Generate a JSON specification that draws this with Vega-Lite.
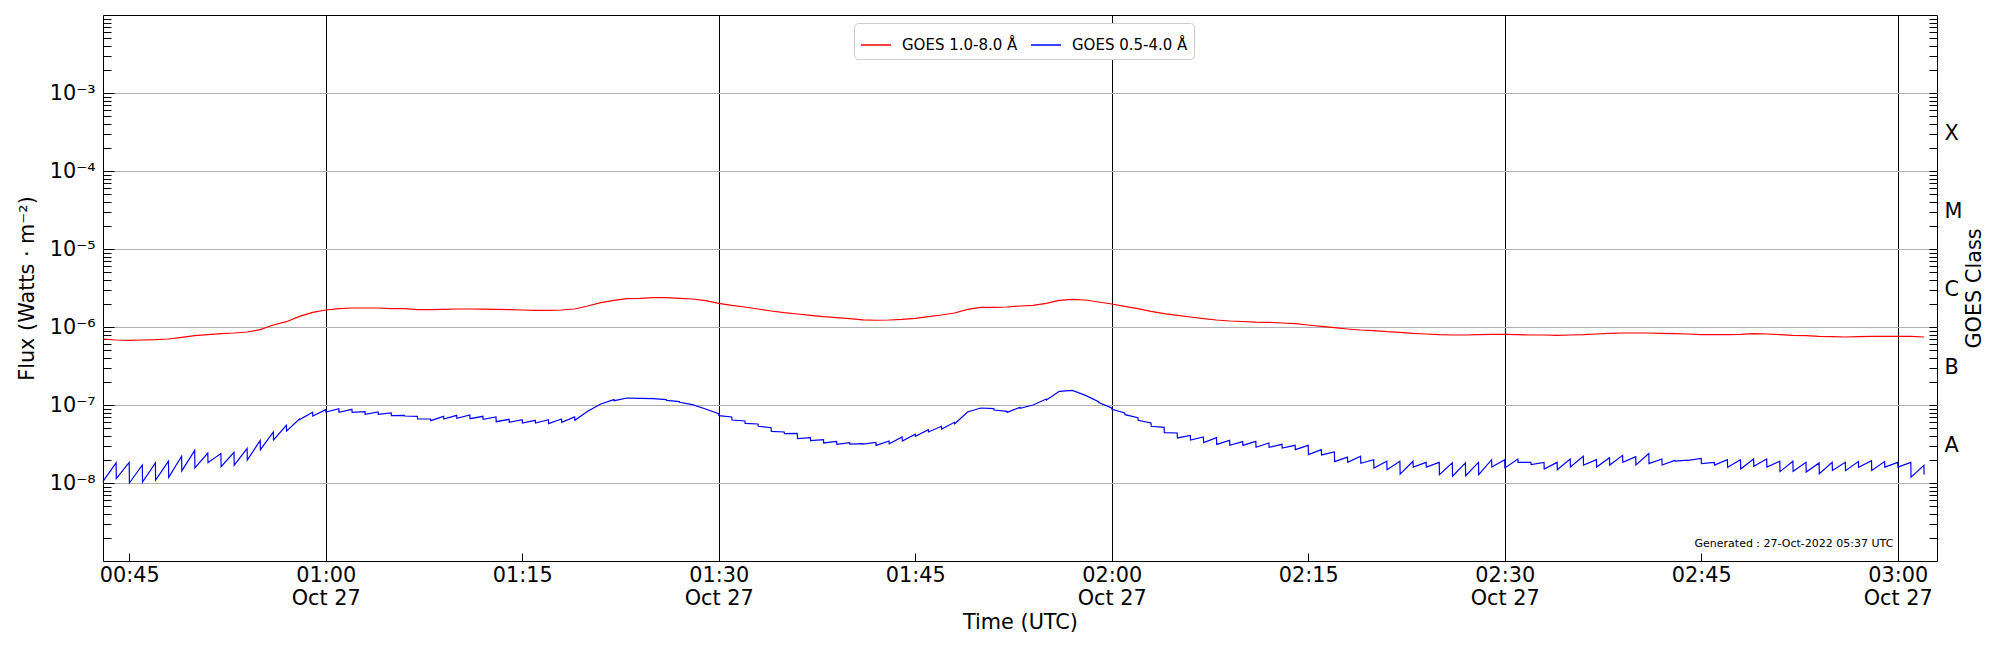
{
  "$schema": "https://vega.github.io/schema/vega-lite/v6.json",
  "width": 1834,
  "height": 546,
  "autosize": {"type": "none"},
  "padding": {"left": 103, "top": 15, "right": 63, "bottom": 89},
  "background": "white",
  "config": {
    "font": "DejaVu Sans",
    "view": {"stroke": "black", "strokeWidth": 1},
    "axis": {
      "domain": false,
      "labelFont": "DejaVu Sans",
      "labelFontSize": 20.8,
      "labelColor": "black",
      "titleFont": "DejaVu Sans",
      "titleFontSize": 20.8,
      "titleFontWeight": "normal",
      "titleColor": "black",
      "tickColor": "black",
      "tickWidth": 1
    }
  },
  "datasets": {
    "xrsb": [
      {"t": "2022-10-27T00:43:00Z", "v": 7.02e-7},
      {"t": "2022-10-27T00:44:00Z", "v": 6.81e-7},
      {"t": "2022-10-27T00:45:00Z", "v": 6.75e-7},
      {"t": "2022-10-27T00:46:00Z", "v": 6.81e-7},
      {"t": "2022-10-27T00:47:00Z", "v": 6.88e-7},
      {"t": "2022-10-27T00:48:00Z", "v": 7.02e-7},
      {"t": "2022-10-27T00:49:00Z", "v": 7.37e-7},
      {"t": "2022-10-27T00:50:00Z", "v": 7.74e-7},
      {"t": "2022-10-27T00:51:00Z", "v": 7.98e-7},
      {"t": "2022-10-27T00:52:00Z", "v": 8.22e-7},
      {"t": "2022-10-27T00:53:00Z", "v": 8.38e-7},
      {"t": "2022-10-27T00:54:00Z", "v": 8.63e-7},
      {"t": "2022-10-27T00:55:00Z", "v": 9.24e-7},
      {"t": "2022-10-27T00:56:00Z", "v": 1.061e-6},
      {"t": "2022-10-27T00:57:00Z", "v": 1.17e-6},
      {"t": "2022-10-27T00:58:00Z", "v": 1.37e-6},
      {"t": "2022-10-27T00:59:00Z", "v": 1.542e-6},
      {"t": "2022-10-27T01:00:00Z", "v": 1.652e-6},
      {"t": "2022-10-27T01:01:00Z", "v": 1.718e-6},
      {"t": "2022-10-27T01:02:00Z", "v": 1.752e-6},
      {"t": "2022-10-27T01:03:00Z", "v": 1.752e-6},
      {"t": "2022-10-27T01:04:00Z", "v": 1.752e-6},
      {"t": "2022-10-27T01:05:00Z", "v": 1.718e-6},
      {"t": "2022-10-27T01:06:00Z", "v": 1.718e-6},
      {"t": "2022-10-27T01:07:00Z", "v": 1.668e-6},
      {"t": "2022-10-27T01:08:00Z", "v": 1.668e-6},
      {"t": "2022-10-27T01:09:00Z", "v": 1.685e-6},
      {"t": "2022-10-27T01:10:00Z", "v": 1.701e-6},
      {"t": "2022-10-27T01:11:00Z", "v": 1.701e-6},
      {"t": "2022-10-27T01:12:00Z", "v": 1.694e-6},
      {"t": "2022-10-27T01:13:00Z", "v": 1.685e-6},
      {"t": "2022-10-27T01:14:00Z", "v": 1.668e-6},
      {"t": "2022-10-27T01:15:00Z", "v": 1.652e-6},
      {"t": "2022-10-27T01:16:00Z", "v": 1.636e-6},
      {"t": "2022-10-27T01:17:00Z", "v": 1.636e-6},
      {"t": "2022-10-27T01:18:00Z", "v": 1.652e-6},
      {"t": "2022-10-27T01:19:00Z", "v": 1.701e-6},
      {"t": "2022-10-27T01:20:00Z", "v": 1.858e-6},
      {"t": "2022-10-27T01:21:00Z", "v": 2.051e-6},
      {"t": "2022-10-27T01:22:00Z", "v": 2.198e-6},
      {"t": "2022-10-27T01:23:00Z", "v": 2.308e-6},
      {"t": "2022-10-27T01:24:00Z", "v": 2.331e-6},
      {"t": "2022-10-27T01:25:00Z", "v": 2.377e-6},
      {"t": "2022-10-27T01:26:00Z", "v": 2.377e-6},
      {"t": "2022-10-27T01:27:00Z", "v": 2.331e-6},
      {"t": "2022-10-27T01:28:00Z", "v": 2.286e-6},
      {"t": "2022-10-27T01:29:00Z", "v": 2.176e-6},
      {"t": "2022-10-27T01:30:00Z", "v": 2.011e-6},
      {"t": "2022-10-27T01:31:00Z", "v": 1.896e-6},
      {"t": "2022-10-27T01:32:00Z", "v": 1.805e-6},
      {"t": "2022-10-27T01:33:00Z", "v": 1.701e-6},
      {"t": "2022-10-27T01:34:00Z", "v": 1.604e-6},
      {"t": "2022-10-27T01:35:00Z", "v": 1.527e-6},
      {"t": "2022-10-27T01:36:00Z", "v": 1.468e-6},
      {"t": "2022-10-27T01:37:00Z", "v": 1.411e-6},
      {"t": "2022-10-27T01:38:00Z", "v": 1.357e-6},
      {"t": "2022-10-27T01:39:00Z", "v": 1.317e-6},
      {"t": "2022-10-27T01:40:00Z", "v": 1.279e-6},
      {"t": "2022-10-27T01:41:00Z", "v": 1.235e-6},
      {"t": "2022-10-27T01:42:00Z", "v": 1.22e-6},
      {"t": "2022-10-27T01:43:00Z", "v": 1.229e-6},
      {"t": "2022-10-27T01:44:00Z", "v": 1.254e-6},
      {"t": "2022-10-27T01:45:00Z", "v": 1.292e-6},
      {"t": "2022-10-27T01:46:00Z", "v": 1.357e-6},
      {"t": "2022-10-27T01:47:00Z", "v": 1.425e-6},
      {"t": "2022-10-27T01:48:00Z", "v": 1.512e-6},
      {"t": "2022-10-27T01:49:00Z", "v": 1.685e-6},
      {"t": "2022-10-27T01:50:00Z", "v": 1.787e-6},
      {"t": "2022-10-27T01:51:00Z", "v": 1.787e-6},
      {"t": "2022-10-27T01:52:00Z", "v": 1.805e-6},
      {"t": "2022-10-27T01:53:00Z", "v": 1.858e-6},
      {"t": "2022-10-27T01:54:00Z", "v": 1.896e-6},
      {"t": "2022-10-27T01:55:00Z", "v": 2.011e-6},
      {"t": "2022-10-27T01:56:00Z", "v": 2.198e-6},
      {"t": "2022-10-27T01:57:00Z", "v": 2.263e-6},
      {"t": "2022-10-27T01:58:00Z", "v": 2.219e-6},
      {"t": "2022-10-27T01:59:00Z", "v": 2.092e-6},
      {"t": "2022-10-27T02:00:00Z", "v": 1.972e-6},
      {"t": "2022-10-27T02:01:00Z", "v": 1.841e-6},
      {"t": "2022-10-27T02:02:00Z", "v": 1.718e-6},
      {"t": "2022-10-27T02:03:00Z", "v": 1.588e-6},
      {"t": "2022-10-27T02:04:00Z", "v": 1.482e-6},
      {"t": "2022-10-27T02:05:00Z", "v": 1.411e-6},
      {"t": "2022-10-27T02:06:00Z", "v": 1.343e-6},
      {"t": "2022-10-27T02:07:00Z", "v": 1.279e-6},
      {"t": "2022-10-27T02:08:00Z", "v": 1.229e-6},
      {"t": "2022-10-27T02:09:00Z", "v": 1.194e-6},
      {"t": "2022-10-27T02:10:00Z", "v": 1.176e-6},
      {"t": "2022-10-27T02:11:00Z", "v": 1.154e-6},
      {"t": "2022-10-27T02:12:00Z", "v": 1.148e-6},
      {"t": "2022-10-27T02:13:00Z", "v": 1.125e-6},
      {"t": "2022-10-27T02:14:00Z", "v": 1.103e-6},
      {"t": "2022-10-27T02:15:00Z", "v": 1.061e-6},
      {"t": "2022-10-27T02:16:00Z", "v": 1.02e-6},
      {"t": "2022-10-27T02:17:00Z", "v": 9.8e-7},
      {"t": "2022-10-27T02:18:00Z", "v": 9.43e-7},
      {"t": "2022-10-27T02:19:00Z", "v": 9.15e-7},
      {"t": "2022-10-27T02:20:00Z", "v": 8.97e-7},
      {"t": "2022-10-27T02:21:00Z", "v": 8.71e-7},
      {"t": "2022-10-27T02:22:00Z", "v": 8.54e-7},
      {"t": "2022-10-27T02:23:00Z", "v": 8.29e-7},
      {"t": "2022-10-27T02:24:00Z", "v": 8.13e-7},
      {"t": "2022-10-27T02:25:00Z", "v": 7.97e-7},
      {"t": "2022-10-27T02:26:00Z", "v": 7.9e-7},
      {"t": "2022-10-27T02:27:00Z", "v": 7.9e-7},
      {"t": "2022-10-27T02:28:00Z", "v": 7.97e-7},
      {"t": "2022-10-27T02:29:00Z", "v": 8.05e-7},
      {"t": "2022-10-27T02:30:00Z", "v": 8.05e-7},
      {"t": "2022-10-27T02:31:00Z", "v": 7.97e-7},
      {"t": "2022-10-27T02:32:00Z", "v": 7.9e-7},
      {"t": "2022-10-27T02:33:00Z", "v": 7.9e-7},
      {"t": "2022-10-27T02:34:00Z", "v": 7.82e-7},
      {"t": "2022-10-27T02:35:00Z", "v": 7.9e-7},
      {"t": "2022-10-27T02:36:00Z", "v": 7.97e-7},
      {"t": "2022-10-27T02:37:00Z", "v": 8.13e-7},
      {"t": "2022-10-27T02:38:00Z", "v": 8.29e-7},
      {"t": "2022-10-27T02:39:00Z", "v": 8.38e-7},
      {"t": "2022-10-27T02:40:00Z", "v": 8.38e-7},
      {"t": "2022-10-27T02:41:00Z", "v": 8.38e-7},
      {"t": "2022-10-27T02:42:00Z", "v": 8.29e-7},
      {"t": "2022-10-27T02:43:00Z", "v": 8.21e-7},
      {"t": "2022-10-27T02:44:00Z", "v": 8.13e-7},
      {"t": "2022-10-27T02:45:00Z", "v": 7.97e-7},
      {"t": "2022-10-27T02:46:00Z", "v": 7.97e-7},
      {"t": "2022-10-27T02:47:00Z", "v": 7.97e-7},
      {"t": "2022-10-27T02:48:00Z", "v": 8.05e-7},
      {"t": "2022-10-27T02:49:00Z", "v": 8.21e-7},
      {"t": "2022-10-27T02:50:00Z", "v": 8.13e-7},
      {"t": "2022-10-27T02:51:00Z", "v": 7.97e-7},
      {"t": "2022-10-27T02:52:00Z", "v": 7.82e-7},
      {"t": "2022-10-27T02:53:00Z", "v": 7.74e-7},
      {"t": "2022-10-27T02:54:00Z", "v": 7.59e-7},
      {"t": "2022-10-27T02:55:00Z", "v": 7.52e-7},
      {"t": "2022-10-27T02:56:00Z", "v": 7.44e-7},
      {"t": "2022-10-27T02:57:00Z", "v": 7.52e-7},
      {"t": "2022-10-27T02:58:00Z", "v": 7.59e-7},
      {"t": "2022-10-27T02:59:00Z", "v": 7.59e-7},
      {"t": "2022-10-27T03:00:00Z", "v": 7.59e-7},
      {"t": "2022-10-27T03:01:00Z", "v": 7.59e-7},
      {"t": "2022-10-27T03:02:00Z", "v": 7.44e-7}
    ],
    "xrsa": [
      {"t": "2022-10-27T00:43:00Z", "v": 1.05e-8},
      {"t": "2022-10-27T00:44:00Z", "v": 1.81e-8}, {"t": "2022-10-27T00:44:01Z", "v": 1.14e-8},
      {"t": "2022-10-27T00:45:00Z", "v": 1.84e-8}, {"t": "2022-10-27T00:45:01Z", "v": 1.0e-8},
      {"t": "2022-10-27T00:46:00Z", "v": 1.7e-8}, {"t": "2022-10-27T00:46:01Z", "v": 1.03e-8},
      {"t": "2022-10-27T00:47:00Z", "v": 1.81e-8}, {"t": "2022-10-27T00:47:01Z", "v": 1.09e-8},
      {"t": "2022-10-27T00:48:00Z", "v": 1.9e-8}, {"t": "2022-10-27T00:48:01Z", "v": 1.18e-8},
      {"t": "2022-10-27T00:49:00Z", "v": 2.2e-8}, {"t": "2022-10-27T00:49:01Z", "v": 1.43e-8},
      {"t": "2022-10-27T00:50:00Z", "v": 2.62e-8}, {"t": "2022-10-27T00:50:01Z", "v": 1.56e-8},
      {"t": "2022-10-27T00:51:00Z", "v": 2.42e-8}, {"t": "2022-10-27T00:51:01Z", "v": 1.82e-8},
      {"t": "2022-10-27T00:52:00Z", "v": 2.38e-8}, {"t": "2022-10-27T00:52:01Z", "v": 1.62e-8},
      {"t": "2022-10-27T00:53:00Z", "v": 2.47e-8}, {"t": "2022-10-27T00:53:01Z", "v": 1.69e-8},
      {"t": "2022-10-27T00:54:00Z", "v": 2.78e-8}, {"t": "2022-10-27T00:54:01Z", "v": 1.97e-8},
      {"t": "2022-10-27T00:55:00Z", "v": 3.52e-8}, {"t": "2022-10-27T00:55:01Z", "v": 2.68e-8},
      {"t": "2022-10-27T00:56:00Z", "v": 4.51e-8}, {"t": "2022-10-27T00:56:01Z", "v": 3.56e-8},
      {"t": "2022-10-27T00:57:00Z", "v": 5.49e-8}, {"t": "2022-10-27T00:57:01Z", "v": 4.64e-8},
      {"t": "2022-10-27T00:58:00Z", "v": 6.61e-8}, {"t": "2022-10-27T00:58:01Z", "v": 6.49e-8},
      {"t": "2022-10-27T00:59:00Z", "v": 8.05e-8}, {"t": "2022-10-27T00:59:01Z", "v": 7.23e-8},
      {"t": "2022-10-27T01:00:00Z", "v": 8.71e-8}, {"t": "2022-10-27T01:00:01Z", "v": 8.13e-8},
      {"t": "2022-10-27T01:01:00Z", "v": 8.97e-8}, {"t": "2022-10-27T01:01:01Z", "v": 8.05e-8},
      {"t": "2022-10-27T01:02:00Z", "v": 8.8e-8}, {"t": "2022-10-27T01:02:01Z", "v": 8.05e-8},
      {"t": "2022-10-27T01:03:00Z", "v": 8.21e-8}, {"t": "2022-10-27T01:03:01Z", "v": 7.59e-8},
      {"t": "2022-10-27T01:04:00Z", "v": 8.13e-8}, {"t": "2022-10-27T01:04:01Z", "v": 7.59e-8},
      {"t": "2022-10-27T01:05:00Z", "v": 7.9e-8}, {"t": "2022-10-27T01:05:01Z", "v": 7.3e-8},
      {"t": "2022-10-27T01:06:00Z", "v": 7.37e-8}, {"t": "2022-10-27T01:06:01Z", "v": 7.23e-8},
      {"t": "2022-10-27T01:07:00Z", "v": 7.16e-8}, {"t": "2022-10-27T01:07:01Z", "v": 6.61e-8},
      {"t": "2022-10-27T01:08:00Z", "v": 6.61e-8}, {"t": "2022-10-27T01:08:01Z", "v": 6.3e-8},
      {"t": "2022-10-27T01:09:00Z", "v": 7.16e-8}, {"t": "2022-10-27T01:09:01Z", "v": 6.61e-8},
      {"t": "2022-10-27T01:10:00Z", "v": 7.37e-8}, {"t": "2022-10-27T01:10:01Z", "v": 6.75e-8},
      {"t": "2022-10-27T01:11:00Z", "v": 7.44e-8}, {"t": "2022-10-27T01:11:01Z", "v": 6.68e-8},
      {"t": "2022-10-27T01:12:00Z", "v": 7.16e-8}, {"t": "2022-10-27T01:12:01Z", "v": 6.55e-8},
      {"t": "2022-10-27T01:13:00Z", "v": 7.02e-8}, {"t": "2022-10-27T01:13:01Z", "v": 6.11e-8},
      {"t": "2022-10-27T01:14:00Z", "v": 6.55e-8}, {"t": "2022-10-27T01:14:01Z", "v": 6.0e-8},
      {"t": "2022-10-27T01:15:00Z", "v": 6.49e-8}, {"t": "2022-10-27T01:15:01Z", "v": 5.88e-8},
      {"t": "2022-10-27T01:16:00Z", "v": 6.36e-8}, {"t": "2022-10-27T01:16:01Z", "v": 5.88e-8},
      {"t": "2022-10-27T01:17:00Z", "v": 6.49e-8}, {"t": "2022-10-27T01:17:01Z", "v": 5.76e-8},
      {"t": "2022-10-27T01:18:00Z", "v": 6.61e-8}, {"t": "2022-10-27T01:18:01Z", "v": 6.0e-8},
      {"t": "2022-10-27T01:19:00Z", "v": 7.02e-8}, {"t": "2022-10-27T01:19:01Z", "v": 6.36e-8},
      {"t": "2022-10-27T01:20:00Z", "v": 8.3e-8},
      {"t": "2022-10-27T01:21:00Z", "v": 1.03e-7},
      {"t": "2022-10-27T01:22:00Z", "v": 1.171e-7}, {"t": "2022-10-27T01:22:01Z", "v": 1.136e-7},
      {"t": "2022-10-27T01:23:00Z", "v": 1.23e-7},
      {"t": "2022-10-27T01:24:00Z", "v": 1.218e-7},
      {"t": "2022-10-27T01:25:00Z", "v": 1.206e-7},
      {"t": "2022-10-27T01:26:00Z", "v": 1.171e-7}, {"t": "2022-10-27T01:26:01Z", "v": 1.148e-7},
      {"t": "2022-10-27T01:27:00Z", "v": 1.103e-7}, {"t": "2022-10-27T01:27:01Z", "v": 1.082e-7},
      {"t": "2022-10-27T01:28:00Z", "v": 1.01e-7},
      {"t": "2022-10-27T01:29:00Z", "v": 8.89e-8},
      {"t": "2022-10-27T01:30:00Z", "v": 7.74e-8}, {"t": "2022-10-27T01:30:01Z", "v": 7.3e-8},
      {"t": "2022-10-27T01:31:00Z", "v": 7.02e-8}, {"t": "2022-10-27T01:31:01Z", "v": 6.42e-8},
      {"t": "2022-10-27T01:32:00Z", "v": 6.24e-8}, {"t": "2022-10-27T01:32:01Z", "v": 5.82e-8},
      {"t": "2022-10-27T01:33:00Z", "v": 5.71e-8}, {"t": "2022-10-27T01:33:01Z", "v": 5.33e-8},
      {"t": "2022-10-27T01:34:00Z", "v": 5.12e-8}, {"t": "2022-10-27T01:34:01Z", "v": 4.6e-8},
      {"t": "2022-10-27T01:35:00Z", "v": 4.51e-8}, {"t": "2022-10-27T01:35:01Z", "v": 4.29e-8},
      {"t": "2022-10-27T01:36:00Z", "v": 4.33e-8}, {"t": "2022-10-27T01:36:01Z", "v": 3.7e-8},
      {"t": "2022-10-27T01:37:00Z", "v": 3.81e-8}, {"t": "2022-10-27T01:37:01Z", "v": 3.49e-8},
      {"t": "2022-10-27T01:38:00Z", "v": 3.59e-8}, {"t": "2022-10-27T01:38:01Z", "v": 3.26e-8},
      {"t": "2022-10-27T01:39:00Z", "v": 3.42e-8}, {"t": "2022-10-27T01:39:01Z", "v": 3.13e-8},
      {"t": "2022-10-27T01:40:00Z", "v": 3.29e-8}, {"t": "2022-10-27T01:40:01Z", "v": 3.16e-8},
      {"t": "2022-10-27T01:41:00Z", "v": 3.19e-8}, {"t": "2022-10-27T01:41:01Z", "v": 3.16e-8},
      {"t": "2022-10-27T01:42:00Z", "v": 3.32e-8}, {"t": "2022-10-27T01:42:01Z", "v": 3.04e-8},
      {"t": "2022-10-27T01:43:00Z", "v": 3.46e-8}, {"t": "2022-10-27T01:43:01Z", "v": 3.19e-8},
      {"t": "2022-10-27T01:44:00Z", "v": 3.89e-8}, {"t": "2022-10-27T01:44:01Z", "v": 3.46e-8},
      {"t": "2022-10-27T01:45:00Z", "v": 4.21e-8}, {"t": "2022-10-27T01:45:01Z", "v": 3.97e-8},
      {"t": "2022-10-27T01:46:00Z", "v": 4.83e-8}, {"t": "2022-10-27T01:46:01Z", "v": 4.51e-8},
      {"t": "2022-10-27T01:47:00Z", "v": 5.33e-8}, {"t": "2022-10-27T01:47:01Z", "v": 4.92e-8},
      {"t": "2022-10-27T01:48:00Z", "v": 6.0e-8}, {"t": "2022-10-27T01:48:01Z", "v": 5.76e-8},
      {"t": "2022-10-27T01:49:00Z", "v": 8.13e-8},
      {"t": "2022-10-27T01:50:00Z", "v": 9.15e-8},
      {"t": "2022-10-27T01:51:00Z", "v": 8.97e-8}, {"t": "2022-10-27T01:51:01Z", "v": 8.63e-8},
      {"t": "2022-10-27T01:52:00Z", "v": 8.3e-8}, {"t": "2022-10-27T01:52:01Z", "v": 8.05e-8},
      {"t": "2022-10-27T01:53:00Z", "v": 9.33e-8}, {"t": "2022-10-27T01:53:01Z", "v": 9.06e-8},
      {"t": "2022-10-27T01:54:00Z", "v": 1.0e-7},
      {"t": "2022-10-27T01:55:00Z", "v": 1.194e-7}, {"t": "2022-10-27T01:55:01Z", "v": 1.159e-7},
      {"t": "2022-10-27T01:56:00Z", "v": 1.497e-7},
      {"t": "2022-10-27T01:57:00Z", "v": 1.542e-7},
      {"t": "2022-10-27T01:58:00Z", "v": 1.33e-7},
      {"t": "2022-10-27T01:59:00Z", "v": 1.103e-7}, {"t": "2022-10-27T01:59:01Z", "v": 1.071e-7},
      {"t": "2022-10-27T02:00:00Z", "v": 9.15e-8}, {"t": "2022-10-27T02:00:01Z", "v": 8.8e-8},
      {"t": "2022-10-27T02:01:00Z", "v": 7.9e-8}, {"t": "2022-10-27T02:01:01Z", "v": 7.52e-8},
      {"t": "2022-10-27T02:02:00Z", "v": 6.88e-8}, {"t": "2022-10-27T02:02:01Z", "v": 6.36e-8},
      {"t": "2022-10-27T02:03:00Z", "v": 5.88e-8}, {"t": "2022-10-27T02:03:01Z", "v": 5.33e-8},
      {"t": "2022-10-27T02:04:00Z", "v": 5.17e-8}, {"t": "2022-10-27T02:04:01Z", "v": 4.42e-8},
      {"t": "2022-10-27T02:05:00Z", "v": 4.38e-8}, {"t": "2022-10-27T02:05:01Z", "v": 3.78e-8},
      {"t": "2022-10-27T02:06:00Z", "v": 4.08e-8}, {"t": "2022-10-27T02:06:01Z", "v": 3.56e-8},
      {"t": "2022-10-27T02:07:00Z", "v": 3.89e-8}, {"t": "2022-10-27T02:07:01Z", "v": 3.29e-8},
      {"t": "2022-10-27T02:08:00Z", "v": 3.81e-8}, {"t": "2022-10-27T02:08:01Z", "v": 3.13e-8},
      {"t": "2022-10-27T02:09:00Z", "v": 3.52e-8}, {"t": "2022-10-27T02:09:01Z", "v": 3.04e-8},
      {"t": "2022-10-27T02:10:00Z", "v": 3.39e-8}, {"t": "2022-10-27T02:10:01Z", "v": 3.04e-8},
      {"t": "2022-10-27T02:11:00Z", "v": 3.42e-8}, {"t": "2022-10-27T02:11:01Z", "v": 2.87e-8},
      {"t": "2022-10-27T02:12:00Z", "v": 3.26e-8}, {"t": "2022-10-27T02:12:01Z", "v": 2.87e-8},
      {"t": "2022-10-27T02:13:00Z", "v": 3.13e-8}, {"t": "2022-10-27T02:13:01Z", "v": 2.81e-8},
      {"t": "2022-10-27T02:14:00Z", "v": 3.04e-8}, {"t": "2022-10-27T02:14:01Z", "v": 2.68e-8},
      {"t": "2022-10-27T02:15:00Z", "v": 3.04e-8}, {"t": "2022-10-27T02:15:01Z", "v": 2.31e-8},
      {"t": "2022-10-27T02:16:00Z", "v": 2.68e-8}, {"t": "2022-10-27T02:16:01Z", "v": 2.29e-8},
      {"t": "2022-10-27T02:17:00Z", "v": 2.5e-8}, {"t": "2022-10-27T02:17:01Z", "v": 1.88e-8},
      {"t": "2022-10-27T02:18:00Z", "v": 2.15e-8}, {"t": "2022-10-27T02:18:01Z", "v": 1.84e-8},
      {"t": "2022-10-27T02:19:00Z", "v": 2.2e-8}, {"t": "2022-10-27T02:19:01Z", "v": 1.79e-8},
      {"t": "2022-10-27T02:20:00Z", "v": 1.99e-8}, {"t": "2022-10-27T02:20:01Z", "v": 1.56e-8},
      {"t": "2022-10-27T02:21:00Z", "v": 1.9e-8}, {"t": "2022-10-27T02:21:01Z", "v": 1.48e-8},
      {"t": "2022-10-27T02:22:00Z", "v": 1.9e-8}, {"t": "2022-10-27T02:22:01Z", "v": 1.3e-8},
      {"t": "2022-10-27T02:23:00Z", "v": 1.9e-8}, {"t": "2022-10-27T02:23:01Z", "v": 1.6e-8},
      {"t": "2022-10-27T02:24:00Z", "v": 1.84e-8}, {"t": "2022-10-27T02:24:01Z", "v": 1.6e-8},
      {"t": "2022-10-27T02:25:00Z", "v": 1.84e-8}, {"t": "2022-10-27T02:25:01Z", "v": 1.28e-8},
      {"t": "2022-10-27T02:26:00Z", "v": 1.81e-8}, {"t": "2022-10-27T02:26:01Z", "v": 1.22e-8},
      {"t": "2022-10-27T02:27:00Z", "v": 1.81e-8}, {"t": "2022-10-27T02:27:01Z", "v": 1.24e-8},
      {"t": "2022-10-27T02:28:00Z", "v": 1.84e-8}, {"t": "2022-10-27T02:28:01Z", "v": 1.28e-8},
      {"t": "2022-10-27T02:29:00Z", "v": 1.99e-8}, {"t": "2022-10-27T02:29:01Z", "v": 1.6e-8},
      {"t": "2022-10-27T02:30:00Z", "v": 1.99e-8}, {"t": "2022-10-27T02:30:01Z", "v": 1.56e-8},
      {"t": "2022-10-27T02:31:00Z", "v": 2.03e-8}, {"t": "2022-10-27T02:31:01Z", "v": 1.84e-8},
      {"t": "2022-10-27T02:32:00Z", "v": 1.84e-8}, {"t": "2022-10-27T02:32:01Z", "v": 1.72e-8},
      {"t": "2022-10-27T02:33:00Z", "v": 1.84e-8}, {"t": "2022-10-27T02:33:01Z", "v": 1.51e-8},
      {"t": "2022-10-27T02:34:00Z", "v": 1.84e-8}, {"t": "2022-10-27T02:34:01Z", "v": 1.48e-8},
      {"t": "2022-10-27T02:35:00Z", "v": 2.03e-8}, {"t": "2022-10-27T02:35:01Z", "v": 1.6e-8},
      {"t": "2022-10-27T02:36:00Z", "v": 2.2e-8}, {"t": "2022-10-27T02:36:01Z", "v": 1.7e-8},
      {"t": "2022-10-27T02:37:00Z", "v": 1.99e-8}, {"t": "2022-10-27T02:37:01Z", "v": 1.6e-8},
      {"t": "2022-10-27T02:38:00Z", "v": 2.11e-8}, {"t": "2022-10-27T02:38:01Z", "v": 1.7e-8},
      {"t": "2022-10-27T02:39:00Z", "v": 2.26e-8}, {"t": "2022-10-27T02:39:01Z", "v": 1.84e-8},
      {"t": "2022-10-27T02:40:00Z", "v": 2.18e-8}, {"t": "2022-10-27T02:40:01Z", "v": 1.7e-8},
      {"t": "2022-10-27T02:41:00Z", "v": 2.38e-8}, {"t": "2022-10-27T02:41:01Z", "v": 1.77e-8},
      {"t": "2022-10-27T02:42:00Z", "v": 2.03e-8}, {"t": "2022-10-27T02:42:01Z", "v": 1.7e-8},
      {"t": "2022-10-27T02:43:00Z", "v": 1.95e-8}, {"t": "2022-10-27T02:43:01Z", "v": 1.91e-8},
      {"t": "2022-10-27T02:44:00Z", "v": 1.97e-8}, {"t": "2022-10-27T02:44:01Z", "v": 1.95e-8},
      {"t": "2022-10-27T02:45:00Z", "v": 2.07e-8}, {"t": "2022-10-27T02:45:01Z", "v": 1.77e-8},
      {"t": "2022-10-27T02:46:00Z", "v": 1.84e-8}, {"t": "2022-10-27T02:46:01Z", "v": 1.7e-8},
      {"t": "2022-10-27T02:47:00Z", "v": 1.99e-8}, {"t": "2022-10-27T02:47:01Z", "v": 1.59e-8},
      {"t": "2022-10-27T02:48:00Z", "v": 1.99e-8}, {"t": "2022-10-27T02:48:01Z", "v": 1.51e-8},
      {"t": "2022-10-27T02:49:00Z", "v": 2.03e-8}, {"t": "2022-10-27T02:49:01Z", "v": 1.64e-8},
      {"t": "2022-10-27T02:50:00Z", "v": 2.03e-8}, {"t": "2022-10-27T02:50:01Z", "v": 1.6e-8},
      {"t": "2022-10-27T02:51:00Z", "v": 1.9e-8}, {"t": "2022-10-27T02:51:01Z", "v": 1.4e-8},
      {"t": "2022-10-27T02:52:00Z", "v": 1.9e-8}, {"t": "2022-10-27T02:52:01Z", "v": 1.41e-8},
      {"t": "2022-10-27T02:53:00Z", "v": 1.84e-8}, {"t": "2022-10-27T02:53:01Z", "v": 1.38e-8},
      {"t": "2022-10-27T02:54:00Z", "v": 1.81e-8}, {"t": "2022-10-27T02:54:01Z", "v": 1.32e-8},
      {"t": "2022-10-27T02:55:00Z", "v": 1.84e-8}, {"t": "2022-10-27T02:55:01Z", "v": 1.45e-8},
      {"t": "2022-10-27T02:56:00Z", "v": 1.84e-8}, {"t": "2022-10-27T02:56:01Z", "v": 1.44e-8},
      {"t": "2022-10-27T02:57:00Z", "v": 1.88e-8}, {"t": "2022-10-27T02:57:01Z", "v": 1.59e-8},
      {"t": "2022-10-27T02:58:00Z", "v": 1.93e-8}, {"t": "2022-10-27T02:58:01Z", "v": 1.45e-8},
      {"t": "2022-10-27T02:59:00Z", "v": 1.88e-8}, {"t": "2022-10-27T02:59:01Z", "v": 1.6e-8},
      {"t": "2022-10-27T03:00:00Z", "v": 1.84e-8}, {"t": "2022-10-27T03:00:01Z", "v": 1.6e-8},
      {"t": "2022-10-27T03:01:00Z", "v": 1.84e-8}, {"t": "2022-10-27T03:01:01Z", "v": 1.19e-8},
      {"t": "2022-10-27T03:02:00Z", "v": 1.69e-8}, {"t": "2022-10-27T03:02:01Z", "v": 1.28e-8}
    ],
    "note": [
      {"t": "2022-10-27T02:59:40Z", "v": 1.5e-9, "label": "Generated : 27-Oct-2022 05:37 UTC"}
    ]
  },
  "encoding": {
    "x": {
      "field": "t",
      "type": "temporal",
      "scale": {
        "type": "utc",
        "domain": [
          {"year": 2022, "month": 10, "date": 27, "hours": 0, "minutes": 43, "utc": true},
          {"year": 2022, "month": 10, "date": 27, "hours": 3, "minutes": 3, "utc": true}
        ]
      },
      "axis": {
        "values": [
          {"year": 2022, "month": 10, "date": 27, "hours": 0, "minutes": 45, "utc": true},
          {"year": 2022, "month": 10, "date": 27, "hours": 1, "minutes": 0, "utc": true},
          {"year": 2022, "month": 10, "date": 27, "hours": 1, "minutes": 15, "utc": true},
          {"year": 2022, "month": 10, "date": 27, "hours": 1, "minutes": 30, "utc": true},
          {"year": 2022, "month": 10, "date": 27, "hours": 1, "minutes": 45, "utc": true},
          {"year": 2022, "month": 10, "date": 27, "hours": 2, "minutes": 0, "utc": true},
          {"year": 2022, "month": 10, "date": 27, "hours": 2, "minutes": 15, "utc": true},
          {"year": 2022, "month": 10, "date": 27, "hours": 2, "minutes": 30, "utc": true},
          {"year": 2022, "month": 10, "date": 27, "hours": 2, "minutes": 45, "utc": true},
          {"year": 2022, "month": 10, "date": 27, "hours": 3, "minutes": 0, "utc": true}
        ],
        "labelExpr": "utcminutes(datum.value) % 30 === 0 ? [utcFormat(datum.value, '%H:%M'), 'Oct 27'] : utcFormat(datum.value, '%H:%M')",
        "tickSize": -8,
        "labelPadding": 12,
        "labelLineHeight": 23,
        "labelFlush": false,
        "labelOverlap": false,
        "grid": true,
        "gridColor": "black",
        "gridWidth": 1,
        "gridOpacity": {"condition": {"test": "utcminutes(datum.value) % 30 === 0", "value": 1}, "value": 0},
        "title": "Time (UTC)",
        "titlePadding": 5
      }
    }
  },
  "layer": [
    {
      "data": {"name": "xrsb"},
      "mark": {"type": "line", "strokeWidth": 1.2},
      "encoding": {
        "y": {
          "field": "v",
          "type": "quantitative",
          "scale": {"type": "log", "domain": [1e-9, 1e-2], "nice": false},
          "axis": {
            "orient": "left",
            "values": [1e-8, 1e-7, 1e-6, 1e-5, 1e-4, 1e-3],
            "labelExpr": "'10⁻' + ['⁰','¹','²','³','⁴','⁵','⁶','⁷','⁸','⁹'][-round(log(datum.value)/LN10)]",
            "tickSize": -11,
            "labelPadding": 19,
            "labelFlush": false,
            "labelOverlap": false,
            "grid": true,
            "gridColor": "#b0b0b0",
            "gridWidth": 1,
            "title": "Flux (Watts · m⁻²)",
            "titlePadding": 12
          }
        },
        "color": {
          "datum": "GOES 1.0-8.0 Å",
          "type": "nominal",
          "scale": {"domain": ["GOES 1.0-8.0 Å", "GOES 0.5-4.0 Å"], "range": ["#ff0000", "#0000ff"]},
          "legend": {
            "orient": "none",
            "legendX": 751,
            "legendY": 8,
            "direction": "horizontal",
            "title": null,
            "symbolType": "stroke",
            "symbolSize": 900,
            "symbolStrokeWidth": 1.5,
            "labelFont": "DejaVu Sans",
            "labelFontSize": 15,
            "labelColor": "black",
            "labelOffset": 10,
            "labelLimit": 300,
            "columnPadding": 10,
            "padding": 6,
            "fillColor": "white",
            "strokeColor": "#cccccc",
            "cornerRadius": 4
          }
        }
      }
    },
    {
      "data": {"name": "xrsa"},
      "mark": {"type": "line", "strokeWidth": 1.2},
      "encoding": {
        "y": {
          "field": "v",
          "type": "quantitative",
          "scale": {"type": "log", "domain": [1e-9, 1e-2], "nice": false},
          "axis": {
            "orient": "right",
            "values": [2e-9, 3e-9, 4e-9, 5e-9, 6e-9, 7e-9, 8e-9, 9e-9, 1e-8, 2e-8, 3e-8, 4e-8, 5e-8, 6e-8, 7e-8, 8e-8, 9e-8, 1e-7, 2e-7, 3e-7, 4e-7, 5e-7, 6e-7, 7e-7, 8e-7, 9e-7, 1e-6, 2e-6, 3e-6, 4e-6, 5e-6, 6e-6, 7e-6, 8e-6, 9e-6, 1e-5, 2e-5, 3e-5, 4e-5, 5e-5, 6e-5, 7e-5, 8e-5, 9e-5, 1e-4, 2e-4, 3e-4, 4e-4, 5e-4, 6e-4, 7e-4, 8e-4, 9e-4, 1e-3, 2e-3, 3e-3, 4e-3, 5e-3, 6e-3, 7e-3, 8e-3, 9e-3],
            "labelExpr": "abs(datum.value/3e-8-1) < 0.001 ? 'A' : abs(datum.value/3e-7-1) < 0.001 ? 'B' : abs(datum.value/3e-6-1) < 0.001 ? 'C' : abs(datum.value/3e-5-1) < 0.001 ? 'M' : abs(datum.value/3e-4-1) < 0.001 ? 'X' : ''",
            "tickSize": -8,
            "labelPadding": 15,
            "labelFlush": false,
            "labelOverlap": false,
            "grid": false,
            "title": "GOES Class",
            "titleAngle": 270,
            "titleBaseline": "top",
            "titlePadding": 3
          }
        },
        "color": {
          "datum": "GOES 0.5-4.0 Å",
          "type": "nominal",
          "scale": {"domain": ["GOES 1.0-8.0 Å", "GOES 0.5-4.0 Å"], "range": ["#ff0000", "#0000ff"]}
        }
      }
    },
    {
      "data": {"name": "note"},
      "mark": {"type": "text", "align": "right", "baseline": "alphabetic", "fontSize": 11, "font": "DejaVu Sans", "color": "black"},
      "encoding": {
        "y": {
          "field": "v",
          "type": "quantitative",
          "scale": {"type": "log", "domain": [1e-9, 1e-2], "nice": false},
          "axis": {
            "orient": "left",
            "values": [2e-9, 3e-9, 4e-9, 5e-9, 6e-9, 7e-9, 8e-9, 9e-9, 2e-8, 3e-8, 4e-8, 5e-8, 6e-8, 7e-8, 8e-8, 9e-8, 2e-7, 3e-7, 4e-7, 5e-7, 6e-7, 7e-7, 8e-7, 9e-7, 2e-6, 3e-6, 4e-6, 5e-6, 6e-6, 7e-6, 8e-6, 9e-6, 2e-5, 3e-5, 4e-5, 5e-5, 6e-5, 7e-5, 8e-5, 9e-5, 2e-4, 3e-4, 4e-4, 5e-4, 6e-4, 7e-4, 8e-4, 9e-4, 2e-3, 3e-3, 4e-3, 5e-3, 6e-3, 7e-3, 8e-3, 9e-3],
            "labels": false,
            "tickSize": -8,
            "grid": false,
            "title": null
          }
        },
        "text": {"field": "label"}
      }
    }
  ],
  "resolve": {"scale": {"y": "shared"}, "axis": {"y": "independent"}}
}
